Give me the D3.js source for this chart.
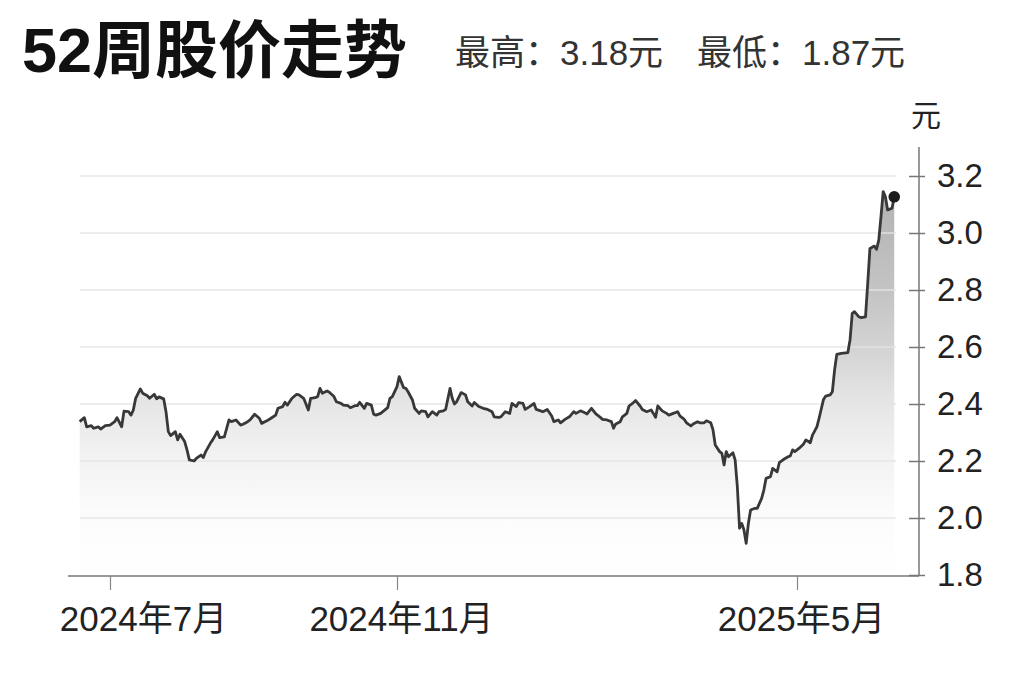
<!DOCTYPE html>
<html>
<head>
<meta charset="utf-8">
<script src="https://cdn.jsdelivr.net/npm/d3@7"></script>
<style>
  body { margin: 0; background: #fff; }
  text { font-family: "Liberation Sans", Arial, "Noto Sans CJK SC", sans-serif; }
</style>
</head>
<body>
<svg id="chart" width="1024" height="682"></svg>
<script>
// 52周收盘价（读图估算）
const dates = [
  "2024-06-18","2024-06-20","2024-06-21","2024-06-23","2024-06-24","2024-06-26","2024-06-27","2024-06-29",
  "2024-07-01","2024-07-03","2024-07-04","2024-07-06","2024-07-07","2024-07-09","2024-07-10","2024-07-11",
  "2024-07-12","2024-07-14","2024-07-15","2024-07-17","2024-07-18","2024-07-20","2024-07-21","2024-07-22",
  "2024-07-24","2024-07-25","2024-07-26","2024-07-27","2024-07-29","2024-07-30","2024-07-31","2024-08-02",
  "2024-08-03","2024-08-04","2024-08-06","2024-08-07","2024-08-09","2024-08-10","2024-08-11","2024-08-13",
  "2024-08-14","2024-08-16","2024-08-17","2024-08-19","2024-08-21","2024-08-22","2024-08-24","2024-08-26",
  "2024-08-27","2024-08-29","2024-08-30","2024-09-01","2024-09-03","2024-09-04","2024-09-06","2024-09-08",
  "2024-09-10","2024-09-11","2024-09-13","2024-09-14","2024-09-15","2024-09-17","2024-09-19","2024-09-20",
  "2024-09-22","2024-09-24","2024-09-25","2024-09-27","2024-09-28","2024-09-29","2024-09-30","2024-10-02",
  "2024-10-03","2024-10-05","2024-10-06","2024-10-08","2024-10-09","2024-10-11","2024-10-12","2024-10-14",
  "2024-10-15","2024-10-16","2024-10-18","2024-10-19","2024-10-21","2024-10-22","2024-10-23","2024-10-25",
  "2024-10-28","2024-10-29","2024-10-30","2024-11-01","2024-11-02","2024-11-04","2024-11-05","2024-11-06",
  "2024-11-08","2024-11-09","2024-11-11","2024-11-12","2024-11-14","2024-11-15","2024-11-17","2024-11-19",
  "2024-11-20","2024-11-22","2024-11-23","2024-11-25","2024-11-26","2024-11-27","2024-11-28","2024-11-30",
  "2024-12-02","2024-12-03","2024-12-05","2024-12-06","2024-12-08","2024-12-10","2024-12-12","2024-12-14",
  "2024-12-15","2024-12-17","2024-12-18","2024-12-20","2024-12-22","2024-12-23","2024-12-25","2024-12-26",
  "2024-12-28","2024-12-29","2024-12-31","2025-01-02","2025-01-03","2025-01-05","2025-01-06","2025-01-08",
  "2025-01-10","2025-01-11","2025-01-13","2025-01-14","2025-01-16","2025-01-18","2025-01-20","2025-01-21",
  "2025-01-23","2025-01-25","2025-01-26","2025-01-28","2025-01-30","2025-02-01","2025-02-02","2025-02-04",
  "2025-02-06","2025-02-07","2025-02-08","2025-02-10","2025-02-11","2025-02-13","2025-02-14","2025-02-16",
  "2025-02-17","2025-02-19","2025-02-20","2025-02-22","2025-02-24","2025-02-25","2025-02-26","2025-02-27",
  "2025-03-01","2025-03-03","2025-03-04","2025-03-06","2025-03-08","2025-03-09","2025-03-11","2025-03-12",
  "2025-03-14","2025-03-15","2025-03-17","2025-03-18","2025-03-20","2025-03-21","2025-03-23","2025-03-24",
  "2025-03-25","2025-03-27","2025-03-28","2025-03-29","2025-03-30","2025-03-31","2025-04-02","2025-04-03",
  "2025-04-04","2025-04-05","2025-04-06","2025-04-07","2025-04-08","2025-04-09","2025-04-10","2025-04-12",
  "2025-04-13","2025-04-15","2025-04-16","2025-04-17","2025-04-19","2025-04-20","2025-04-22","2025-04-23",
  "2025-04-25","2025-04-27","2025-04-28","2025-04-29","2025-04-30","2025-05-02","2025-05-04","2025-05-05",
  "2025-05-07","2025-05-08","2025-05-10","2025-05-11","2025-05-13","2025-05-14","2025-05-16","2025-05-17",
  "2025-05-18","2025-05-19","2025-05-21","2025-05-24","2025-05-25","2025-05-26","2025-05-27","2025-05-29",
  "2025-05-30","2025-06-01","2025-06-02","2025-06-03","2025-06-05","2025-06-06","2025-06-07","2025-06-08",
  "2025-06-09","2025-06-10","2025-06-11","2025-06-13","2025-06-14"
];
const prices = [
  2.338,2.352,2.320,2.324,2.315,2.320,2.312,2.324,
  2.326,2.338,2.352,2.320,2.375,2.373,2.361,2.379,
  2.420,2.453,2.438,2.429,2.420,2.434,2.418,2.425,
  2.418,2.373,2.303,2.289,2.303,2.274,2.294,2.268,
  2.239,2.204,2.200,2.209,2.221,2.212,2.233,2.262,
  2.274,2.303,2.282,2.285,2.344,2.338,2.344,2.326,
  2.329,2.338,2.344,2.364,2.350,2.332,2.340,2.350,
  2.361,2.385,2.391,2.406,2.396,2.420,2.434,2.432,
  2.420,2.379,2.420,2.422,2.426,2.455,2.438,2.446,
  2.441,2.426,2.408,2.402,2.396,2.394,2.387,2.394,
  2.394,2.406,2.385,2.402,2.396,2.364,2.361,2.367,
  2.387,2.420,2.426,2.461,2.496,2.457,2.455,2.443,
  2.414,2.385,2.367,2.376,2.373,2.355,2.373,2.361,
  2.373,2.376,2.381,2.455,2.420,2.400,2.408,2.440,
  2.432,2.408,2.393,2.405,2.391,2.385,2.381,2.373,
  2.355,2.353,2.355,2.373,2.367,2.402,2.391,2.405,
  2.402,2.381,2.391,2.402,2.381,2.376,2.373,2.381,
  2.358,2.338,2.344,2.334,2.346,2.355,2.373,2.367,
  2.376,2.369,2.365,2.385,2.365,2.353,2.346,2.344,
  2.338,2.315,2.330,2.338,2.355,2.367,2.393,2.405,
  2.412,2.393,2.381,2.373,2.379,2.367,2.353,2.393,
  2.376,2.367,2.361,2.367,2.373,2.358,2.346,2.334,
  2.323,2.330,2.338,2.334,2.334,2.341,2.334,2.309,
  2.256,2.233,2.227,2.186,2.233,2.215,2.229,2.204,
  2.110,1.964,1.981,1.958,1.911,1.981,2.028,2.034,
  2.034,2.069,2.098,2.139,2.145,2.174,2.162,2.194,
  2.206,2.215,2.218,2.239,2.233,2.245,2.260,2.274,
  2.264,2.291,2.320,2.350,2.416,2.428,2.432,2.443,
  2.519,2.574,2.578,2.580,2.625,2.718,2.724,2.706,
  2.703,2.706,2.823,2.946,2.954,2.943,2.975,3.057,
  3.145,3.127,3.081,3.087,3.127
];

const yTicks = [1.8, 2.0, 2.2, 2.4, 2.6, 2.8, 3.0, 3.2];
const xTickDates = ["2024-07-01", "2024-11-01", "2025-05-01"];
const xTickLabels = ["2024年7月", "2024年11月", "2025年5月"];

const titleText = "52周股价走势";
const highText = "最高：3.18元";
const lowText = "最低：1.87元";
const unitText = "元";

const parse = d3.timeParse("%Y-%m-%d");
const data = dates.map((d, i) => ({ date: parse(d), value: prices[i] }));
const tickDates = xTickDates.map(parse);

const svg = d3.select("#chart");

// x: 以刻度月份为锚点的时间比例尺
const x = d3.scaleTime()
  .domain(tickDates)
  .range([110, 397, 797]);

const y = d3.scaleLinear()
  .domain([1.8, 3.2])
  .range([575, 176]);

const axisX = 919;
const plotLeft = 80, plotRight = 896;

// 渐变填充（上深下浅）
const defs = svg.append("defs");
const grad = defs.append("linearGradient")
  .attr("id", "fillGrad")
  .attr("gradientUnits", "userSpaceOnUse")
  .attr("x1", 0).attr("x2", 0)
  .attr("y1", y(3.2)).attr("y2", y(1.8));
[[0, "#b0b0b0"], [0.29, "#c4c4c4"], [0.43, "#d3d3d3"], [0.57, "#e6e6e6"],
 [0.71, "#f3f3f3"], [0.86, "#fcfcfc"], [1, "#ffffff"]]
  .forEach(([o, c]) => grad.append("stop").attr("offset", o).attr("stop-color", c));

// 面积
svg.append("path")
  .datum(data)
  .attr("fill", "url(#fillGrad)")
  .attr("d", d3.area()
    .x(d => x(d.date))
    .y0(y(1.8))
    .y1(d => y(d.value)));

// 网格线
svg.append("g")
  .selectAll("line")
  .data(yTicks.filter(t => t > 1.8))
  .enter()
  .append("line")
  .attr("x1", plotLeft)
  .attr("x2", plotRight)
  .attr("y1", d => y(d))
  .attr("y2", d => y(d))
  .attr("stroke", "#e4e4e4")
  .attr("stroke-opacity", 0.9)
  .attr("stroke-width", 1.5);

// 折线
svg.append("path")
  .datum(data)
  .attr("fill", "none")
  .attr("stroke", "#383838")
  .attr("stroke-width", 2.8)
  .attr("stroke-linejoin", "round")
  .attr("d", d3.line()
    .x(d => x(d.date))
    .y(d => y(d.value)));

// 最新价圆点
const last = data[data.length - 1];
svg.append("circle")
  .attr("cx", x(last.date))
  .attr("cy", y(last.value))
  .attr("r", 5.8)
  .attr("fill", "#1c1c1c");

// x 轴
const gx = svg.append("g").attr("transform", "translate(0," + 576 + ")");
gx.append("line")
  .attr("x1", 68).attr("x2", axisX)
  .attr("stroke", "#777").attr("stroke-width", 1.5);
gx.call(d3.axisBottom(x)
    .tickValues(tickDates)
    .tickSize(14)
    .tickPadding(16)
    .tickFormat((d, i) => xTickLabels[i]))
  .call(g => g.select(".domain").remove())
  .call(g => g.selectAll(".tick line").attr("stroke", "#888").attr("stroke-width", 1.2))
  .call(g => g.selectAll(".tick text")
    .attr("font-size", 35)
    .attr("fill", "#222")
    .attr("font-family", null)
    .attr("dx", (d, i) => i === 0 ? 33 : 4));

// y 轴（右侧）
const gy = svg.append("g").attr("transform", "translate(" + axisX + ",0)");
gy.append("line")
  .attr("y1", 147).attr("y2", 576)
  .attr("stroke", "#777").attr("stroke-width", 1.5);
gy.call(d3.axisRight(y)
    .tickValues(yTicks)
    .tickSize(6)
    .tickPadding(12)
    .tickFormat(d3.format(".1f")))
  .call(g => g.select(".domain").remove())
  .call(g => g.selectAll(".tick line").attr("x1", -10).attr("stroke", "#777").attr("stroke-width", 1.5))
  .call(g => g.selectAll(".tick text")
    .attr("font-size", 33)
    .attr("fill", "#222")
    .attr("font-family", null));

// 单位
svg.append("text")
  .attr("x", 926).attr("y", 126)
  .attr("text-anchor", "middle")
  .attr("font-size", 30)
  .attr("fill", "#222")
  .text(unitText);

// 标题
svg.append("text")
  .attr("x", 22).attr("y", 72)
  .attr("font-family", "'Noto Sans CJK SC', sans-serif")
  .attr("font-weight", 700)
  .attr("font-size", 63)
  .attr("fill", "#111")
  .text(titleText);

svg.append("text")
  .attr("x", 455).attr("y", 65)
  .attr("font-size", 35)
  .attr("fill", "#333")
  .text(highText);

svg.append("text")
  .attr("x", 697).attr("y", 65)
  .attr("font-size", 35)
  .attr("fill", "#333")
  .text(lowText);
</script>
</body>
</html>
